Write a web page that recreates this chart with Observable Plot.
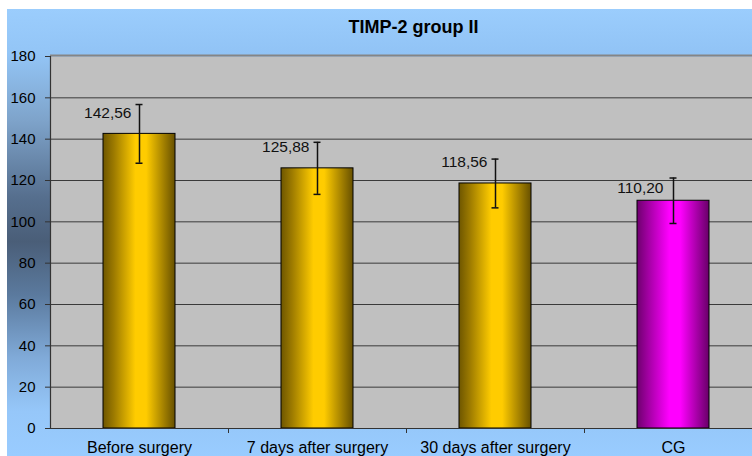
<!DOCTYPE html>
<html>
<head>
<meta charset="utf-8">
<script src="https://cdn.jsdelivr.net/npm/d3@7"></script>
<script src="https://cdn.jsdelivr.net/npm/@observablehq/plot@0.6"></script>
<style>
  html, body { margin: 0; padding: 0; background: #ffffff; }
  #chart { width: 752px; height: 456px; overflow: hidden; }
  #chart svg { display: block; }
</style>
</head>
<body>
<div id="chart"></div>
<script>
const title = "TIMP-2 group II";
const categories = ["Before surgery", "7 days after surgery", "30 days after surgery", "CG"];
const means = [142.56, 125.88, 118.56, 110.20];
const errors = [14.2, 12.6, 11.8, 11.0];
const valueLabels = ["142,56", "125,88", "118,56", "110,20"];
const yTicks = [0, 20, 40, 60, 80, 100, 120, 140, 160, 180];
const controlGroup = "CG";

const data = categories.map((c, i) => ({
  cat: c, mean: means[i], err: errors[i], label: valueLabels[i],
  lo: means[i] - errors[i], hi: means[i] + errors[i]
}));
const study = data.filter(d => d.cat !== controlGroup);
const control = data.filter(d => d.cat === controlGroup);

const font = "'Liberation Sans', Arial, sans-serif";

const chart = Plot.plot({
  width: 752,
  height: 456,
  marginTop: 56,
  marginLeft: 50,
  marginRight: 0,
  marginBottom: 28,
  style: { fontFamily: font, fontSize: "15px", color: "#000", background: "transparent", overflow: "visible" },
  x: { domain: categories, range: [50, 762], padding: 0, label: null },
  y: { domain: [0, 180], label: null },
  marks: [
    Plot.frame({ fill: "#C0C0C0", stroke: null }),
    Plot.ruleY(yTicks.filter(t => t > 0 && t < 180), { stroke: "#3a3a3a", strokeWidth: 1 }),
    Plot.ruleY([180], { stroke: "#858585", strokeWidth: 2, dy: -1 }),
    Plot.barY(study, { x: "cat", y: "mean", fill: "url(#gradGold)", stroke: "#000", strokeWidth: 1, insetLeft: 53, insetRight: 53 }),
    Plot.barY(control, { x: "cat", y: "mean", fill: "url(#gradMagenta)", stroke: "#000", strokeWidth: 1, insetLeft: 53, insetRight: 53 }),
    Plot.ruleX(data, { x: "cat", y1: "lo", y2: "hi", stroke: "#111", strokeWidth: 1.5 }),
    Plot.tickY(data, { x: "cat", y: "hi", stroke: "#111", strokeWidth: 1.5, insetLeft: 85.5, insetRight: 85.5 }),
    Plot.tickY(data, { x: "cat", y: "lo", stroke: "#111", strokeWidth: 1.5, insetLeft: 85.5, insetRight: 85.5 }),
    Plot.text(study, { x: "cat", y: "mean", text: "label", textAnchor: "end", dx: -8, dy: -21, fontSize: 15.5, fill: "#111" }),
    Plot.text(control, { x: "cat", y: "mean", text: "label", textAnchor: "end", dx: -10, dy: -13, fontSize: 15.5, fill: "#111" }),
    Plot.ruleY([0], { stroke: "#333", strokeWidth: 1.2 }),
    Plot.ruleX([categories[0]], { stroke: "#333", strokeWidth: 1.2, dx: -89 }),
    Plot.axisY({ ticks: yTicks, tickSize: 5, tickPadding: 10, stroke: "#333", fontSize: 15, fill: "#000", label: null }),
    Plot.axisX({ tickSize: 5, text: null, dx: 89, stroke: "#333", label: null }),
    Plot.axisX({ tickSize: 0, tickPadding: 13, fontSize: 16, fill: "#000", label: null }),
    Plot.text([title], { frameAnchor: "top", dy: -36, dx: 12, fontSize: 18, fontWeight: "bold", fill: "#000" })
  ]
});

// gradients and page background
const svg = d3.select(chart);
const defs = svg.insert("defs", ":first-child");
function hGrad(id, stops) {
  const g = defs.append("linearGradient").attr("id", id).attr("x1", 0).attr("x2", 1).attr("y1", 0).attr("y2", 0);
  stops.forEach(([o, c]) => g.append("stop").attr("offset", o).attr("stop-color", c));
}
function vGrad(id, stops) {
  const g = defs.append("linearGradient").attr("id", id).attr("x1", 0).attr("x2", 0).attr("y1", 0).attr("y2", 1);
  stops.forEach(([o, c]) => g.append("stop").attr("offset", o).attr("stop-color", c));
}
hGrad("gradGold", [[0, "#6e5600"], [0.15, "#9c7a00"], [0.45, "#ffcc00"], [0.6, "#ffcc00"], [0.85, "#a07e00"], [1, "#675000"]]);
hGrad("gradMagenta", [[0, "#6e006e"], [0.15, "#a000a0"], [0.45, "#ff00ff"], [0.6, "#ff00ff"], [0.85, "#a000a0"], [1, "#680068"]]);
vGrad("gradBg", [[0, "#9bcdfd"], [0.1, "#91c3f5"], [0.94, "#96c8fa"], [1, "#99ccff"]]);
vGrad("gradLeft", [[0, "#9bcdfd"], [0.1, "#93c5f6"], [0.25, "#7ea3ca"], [0.42, "#566f8e"], [0.52, "#4a5e78"], [0.64, "#5b7a9e"], [0.78, "#80aad8"], [0.9, "#96c7f9"], [1, "#99ccff"]]);

const bg = svg.insert("g", "defs + *");
bg.append("rect").attr("x", 0).attr("y", 0).attr("width", 752).attr("height", 456).attr("fill", "#ffffff");
bg.append("rect").attr("x", 7).attr("y", 9).attr("width", 745).attr("height", 447).attr("fill", "url(#gradBg)");
bg.append("rect").attr("x", 7).attr("y", 9).attr("width", 43).attr("height", 447).attr("fill", "url(#gradLeft)");

document.getElementById("chart").appendChild(chart);
</script>
</body>
</html>
